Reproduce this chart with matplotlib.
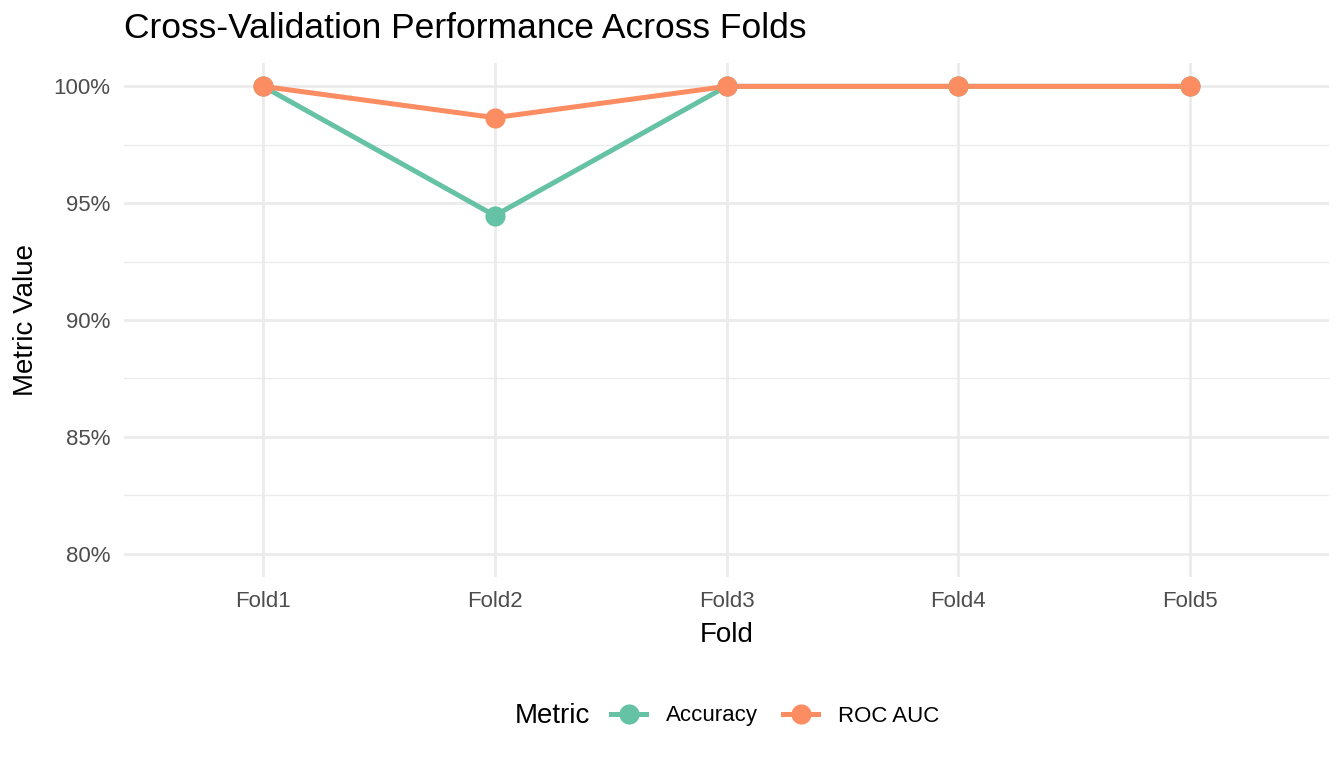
import matplotlib
matplotlib.use("Agg")
import matplotlib.pyplot as plt
from matplotlib.lines import Line2D
from matplotlib.ticker import FuncFormatter, MultipleLocator

plt.rcParams["font.family"] = ["Liberation Sans", "DejaVu Sans"]

folds = ["Fold1", "Fold2", "Fold3", "Fold4", "Fold5"]
accuracy = [1.0, 0.9447, 1.0, 1.0, 1.0]
roc_auc = [1.0, 0.9866, 1.0, 1.0, 1.0]

metrics = {"Accuracy": accuracy, "ROC AUC": roc_auc}
colors = {"Accuracy": "#66C2A5", "ROC AUC": "#FC8D62"}

W, H = 1344, 768
fig = plt.figure(figsize=(W / 100, H / 100), dpi=100)
ax = fig.add_axes([124 / W, 1 - 577 / H, (1329 - 124) / W, (577 - 63) / H])

x = list(range(len(folds)))
for name, vals in metrics.items():
    ax.plot(x, vals, color=colors[name], lw=3.6, zorder=3, solid_capstyle="butt")
for name, vals in metrics.items():
    ax.plot(x, vals, "o", color=colors[name], ms=14.5, mec="none", zorder=4)

ax.set_xlim(-0.6, len(folds) - 0.4)
ax.set_ylim(0.79, 1.01)
ax.set_xticks(x)
ax.set_xticklabels(folds)
ax.yaxis.set_major_locator(MultipleLocator(0.05))
ax.yaxis.set_minor_locator(MultipleLocator(0.025))
ax.yaxis.set_major_formatter(FuncFormatter(lambda v, p: f"{v * 100:.0f}%"))

ax.grid(which="major", color="#EBEBEB", lw=2.0, zorder=0)
ax.grid(which="minor", axis="y", color="#EBEBEB", lw=1.0, zorder=0)
ax.set_axisbelow(True)
for s in ax.spines.values():
    s.set_visible(False)
ax.tick_params(which="both", length=0, labelsize=16, labelcolor="#4D4D4D")
ax.tick_params(axis="x", pad=10)
ax.tick_params(axis="y", pad=10)

ax.set_xlabel("Fold", fontsize=20, labelpad=7)
ax.set_ylabel("Metric Value", fontsize=20, labelpad=10)
fig.text(124 / W, 1 - 29 / H, "Cross-Validation Performance Across Folds",
         fontsize=25.5, ha="left", va="center")

# legend at bottom, title placed to the left
fig.text(590 / W, 1 - 716 / H, "Metric", fontsize=20, ha="right", va="center")
handles = [Line2D([], [], color=colors[n], lw=3.6, marker="o", ms=14.5, mec="none")
           for n in metrics]
fig.legend(handles, list(metrics), loc="center left", ncol=2,
           bbox_to_anchor=(602 / W, 1 - 716 / H), frameon=False, fontsize=16,
           handlelength=1.6, handletextpad=0.9, columnspacing=1.1, borderaxespad=0)

fig.savefig("out.png", dpi=100, facecolor="white")
